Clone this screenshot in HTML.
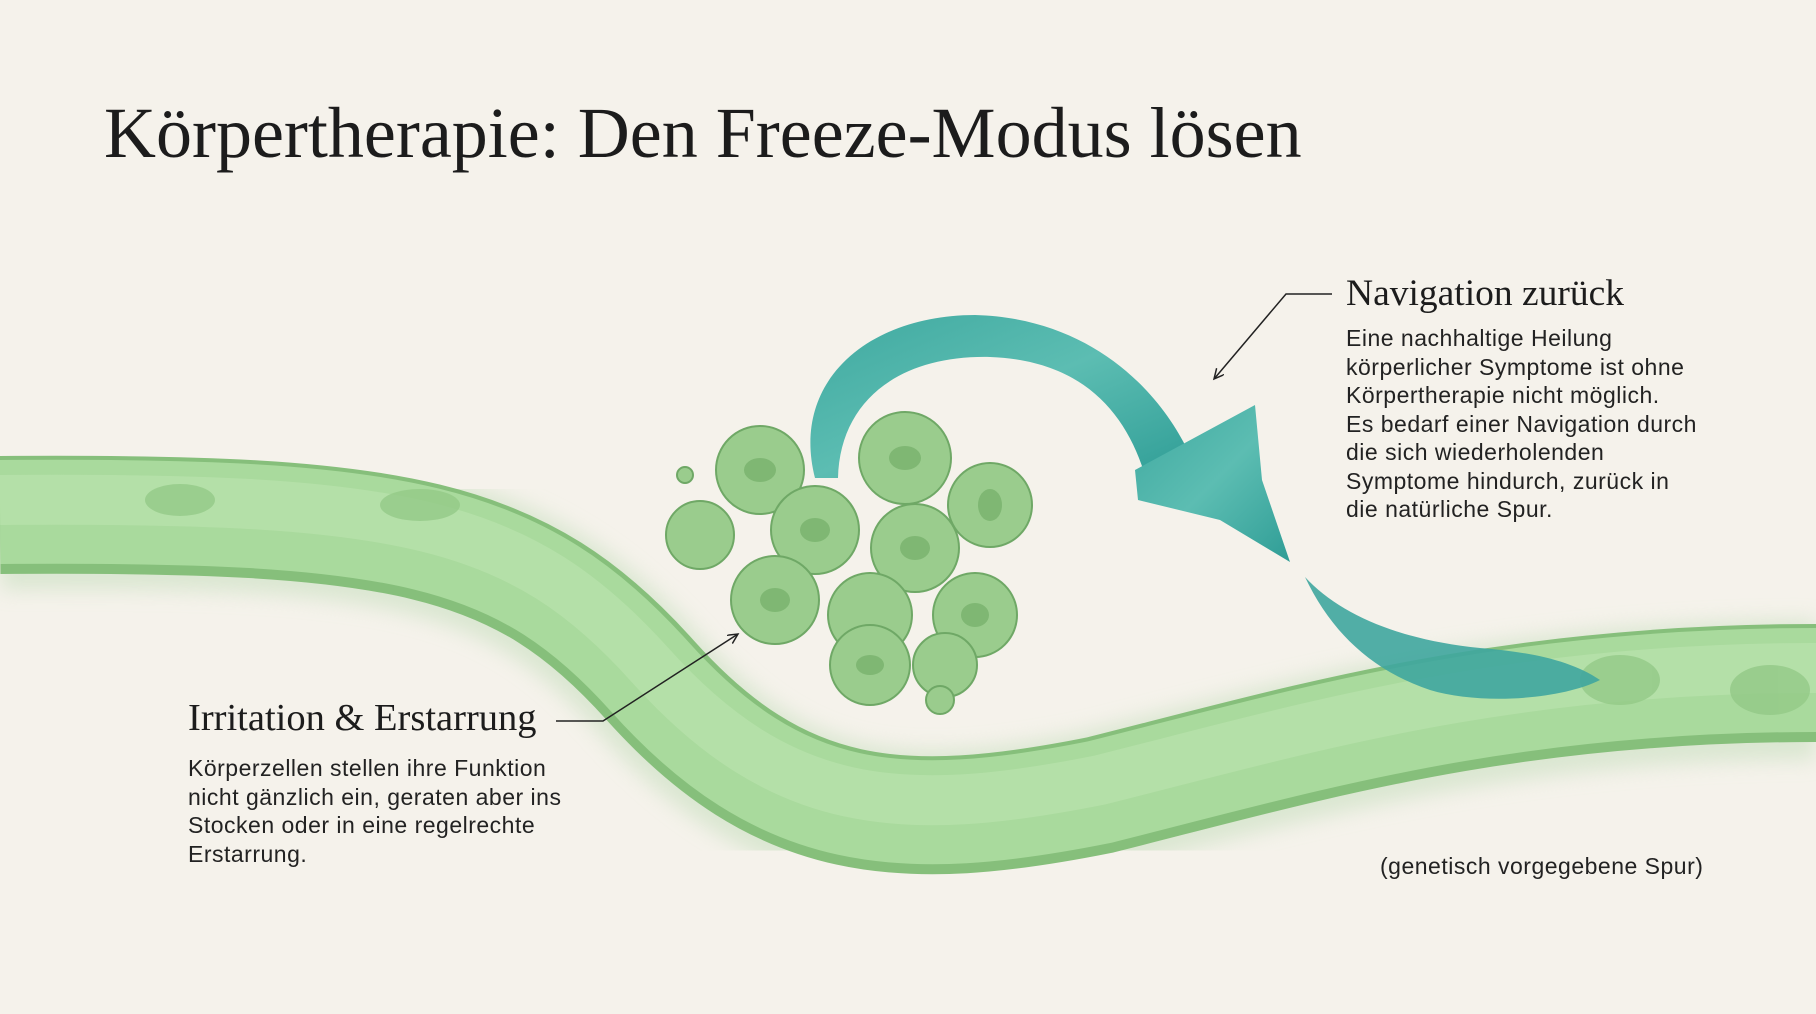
<!DOCTYPE html>
<html><head><meta charset="utf-8"><style>
html,body{margin:0;padding:0;background:#f5f2eb;}
body{width:1816px;height:1014px;position:relative;overflow:hidden;font-family:"Liberation Sans",sans-serif;}
.t{position:absolute;white-space:nowrap;color:#1c1c1c}
.serif{font-family:"Liberation Serif",serif}
.body{font-size:23px;letter-spacing:0.5px;line-height:28.5px;color:#222}
</style></head><body>
<svg width="1816" height="1014" style="position:absolute;left:0;top:0">
<defs>
<linearGradient id="teal" x1="0" y1="0" x2="1" y2="1">
<stop offset="0" stop-color="#3fa9a0"/><stop offset="0.5" stop-color="#5cbdb2"/><stop offset="1" stop-color="#2f9d96"/></linearGradient>
<filter id="blur"><feGaussianBlur stdDeviation="10"/></filter>
<marker id="ah" markerWidth="14" markerHeight="14" refX="10" refY="5" orient="auto" markerUnits="userSpaceOnUse"><path d="M0,0 L10,5 L0,10" fill="none" stroke="#222" stroke-width="1.5"/></marker>
</defs>
<path d="M0 520 C 400 515, 520 540, 650 685 C 780 830, 900 840, 1100 800 C 1300 750, 1500 690, 1816 690" stroke="#cfe2c6" stroke-width="140" fill="none" filter="url(#blur)" opacity="0.7"/>
<path d="M0 515 C 400 512, 520 535, 650 680 C 780 825, 900 835, 1100 795 C 1300 745, 1500 683, 1816 683" stroke="#86bf7b" stroke-width="118" fill="none"/>
<path d="M0 512 C 400 509, 520 532, 650 677 C 780 822, 900 832, 1100 792 C 1300 742, 1500 680, 1816 680" stroke="#a9da9d" stroke-width="104" fill="none"/>
<path d="M0 500 C 400 497, 520 520, 650 665 C 780 810, 900 820, 1100 780 C 1300 730, 1500 668, 1816 668" stroke="#b9e2ad" stroke-width="50" fill="none" opacity="0.7"/>
<g fill="#93c987" opacity="0.8">
<ellipse cx="180" cy="500" rx="35" ry="16"/><ellipse cx="420" cy="505" rx="40" ry="16"/>
<ellipse cx="1620" cy="680" rx="40" ry="25"/><ellipse cx="1770" cy="690" rx="40" ry="25"/></g>
<path d="M815 478 C 790 380, 870 315, 975 315 C 1090 318, 1160 390, 1190 455 L 1145 475 C 1125 410, 1080 360, 990 357 C 900 355, 840 400, 838 478 Z" fill="url(#teal)"/>
<path d="M1135 470 L1255 405 L1262 480 L1290 562 L1220 520 L1138 500 Z" fill="url(#teal)"/>
<path d="M1305 577 C 1340 615, 1400 640, 1480 648 C 1530 652, 1570 660, 1600 680 C 1560 700, 1480 705, 1430 690 C 1370 670, 1330 630, 1305 577 Z" fill="#3fa69e" opacity="0.9"/>
<g stroke="#6fa866" stroke-width="2" fill="#9acc8d">
<circle cx="760" cy="470" r="44"/><circle cx="905" cy="458" r="46"/><circle cx="990" cy="505" r="42"/>
<circle cx="700" cy="535" r="34"/><circle cx="815" cy="530" r="44"/><circle cx="915" cy="548" r="44"/>
<circle cx="775" cy="600" r="44"/><circle cx="870" cy="615" r="42"/><circle cx="975" cy="615" r="42"/>
<circle cx="870" cy="665" r="40"/><circle cx="945" cy="665" r="32"/><circle cx="685" cy="475" r="8"/><circle cx="940" cy="700" r="14"/>
</g>
<g fill="#7fb773"><ellipse cx="760" cy="470" rx="16" ry="12"/><ellipse cx="905" cy="458" rx="16" ry="12"/><ellipse cx="990" cy="505" rx="12" ry="16"/><ellipse cx="815" cy="530" rx="15" ry="12"/><ellipse cx="915" cy="548" rx="15" ry="12"/><ellipse cx="775" cy="600" rx="15" ry="12"/><ellipse cx="975" cy="615" rx="14" ry="12"/><ellipse cx="870" cy="665" rx="14" ry="10"/></g>
<polyline points="556,721 603,721 738,634" fill="none" stroke="#222" stroke-width="1.5" marker-end="url(#ah)"/>
<polyline points="1332,294 1286,294 1214,379" fill="none" stroke="#222" stroke-width="1.5" marker-end="url(#ah)"/>
</svg>
<div class="t serif" style="left:104px;top:92px;font-size:72px;">Körpertherapie: Den Freeze-Modus lösen</div>
<div class="t serif" style="left:1346px;top:272px;font-size:37.5px;">Navigation zurück</div>
<div class="t body" style="left:1346px;top:324px;">Eine nachhaltige Heilung<br>körperlicher Symptome ist ohne<br>Körpertherapie nicht möglich.<br>Es bedarf einer Navigation durch<br>die sich wiederholenden<br>Symptome hindurch, zurück in<br>die natürliche Spur.</div>
<div class="t serif" style="left:188px;top:696px;font-size:38.5px;">Irritation &amp; Erstarrung</div>
<div class="t body" style="left:188px;top:754px;">Körperzellen stellen ihre Funktion<br>nicht gänzlich ein, geraten aber ins<br>Stocken oder in eine regelrechte<br>Erstarrung.</div>
<div class="t body" style="left:1380px;top:852px;">(genetisch vorgegebene Spur)</div>
</body></html>
